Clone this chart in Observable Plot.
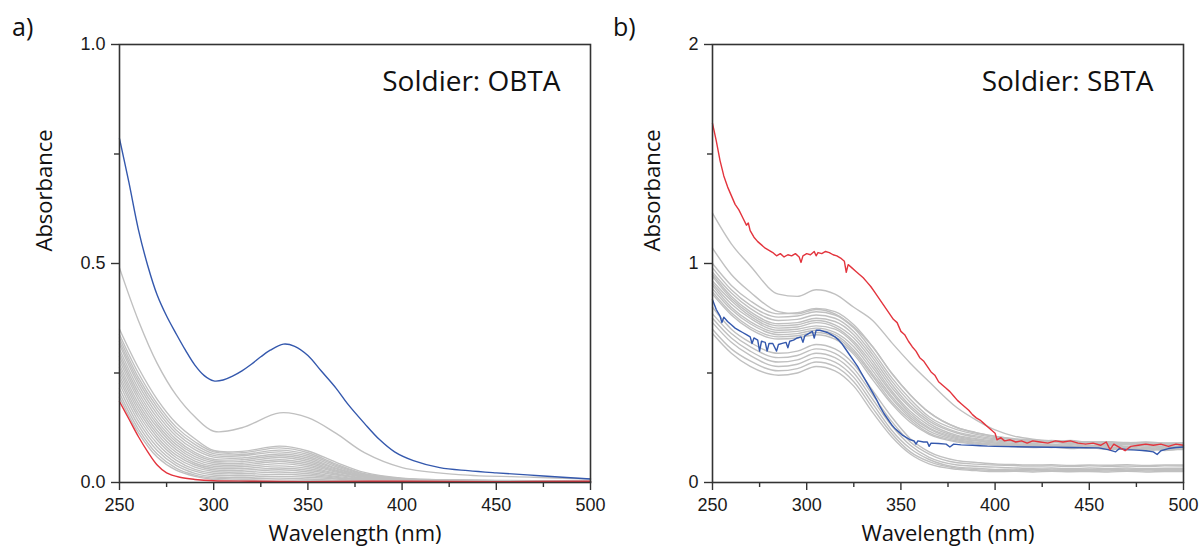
<!DOCTYPE html>
<html><head><meta charset="utf-8">
<script src="https://cdn.jsdelivr.net/npm/d3@7"></script>
<script src="https://cdn.jsdelivr.net/npm/@observablehq/plot@0.6"></script>
<style>
body{margin:0;background:#fff;}
#root{position:relative;width:1204px;height:556px;overflow:hidden;font-family:"Open Sans",sans-serif;background:#fff;}
.panel{position:absolute;top:0;}
.tag{position:absolute;font-size:25px;color:#111;line-height:1;font-family:"Open Sans",sans-serif;}
</style></head><body>
<div id="root">
 <div id="pb" class="panel" style="left:602px"></div>
 <div id="pa" class="panel" style="left:0"></div>
 <div class="tag" style="left:12px;top:14px">a)</div>
 <div class="tag" style="left:613px;top:14px">b)</div>
</div>
<script>
// ---------- shared axis values ----------
const xMajor = [250, 300, 350, 400, 450, 500];
const xMinor = [275, 325, 375, 425, 475];

// ---------- panel a: Soldier OBTA ----------
const titleA = "Soldier: OBTA";
const yTicksA = [0, 0.5, 1.0];
const yMinorA = [0.25, 0.75];
const grayWlA = [250, 260, 270, 280, 290, 300, 315, 335, 350, 365, 380, 400, 430, 470, 500];
const grayA = [
  [0.490, 0.370, 0.272, 0.200, 0.150, 0.117, 0.125, 0.159, 0.148, 0.112, 0.068, 0.034, 0.018, 0.012, 0.008],
  [0.350, 0.262, 0.190, 0.136, 0.100, 0.073, 0.071, 0.083, 0.072, 0.046, 0.023, 0.010, 0.006, 0.004, 0.003],
  [0.338, 0.250, 0.180, 0.127, 0.093, 0.070, 0.068, 0.079, 0.068, 0.042, 0.020, 0.009, 0.005, 0.004, 0.003],
  [0.330, 0.240, 0.172, 0.120, 0.087, 0.066, 0.064, 0.074, 0.064, 0.039, 0.019, 0.008, 0.005, 0.003, 0.002],
  [0.322, 0.232, 0.164, 0.113, 0.081, 0.062, 0.061, 0.070, 0.060, 0.036, 0.017, 0.008, 0.005, 0.003, 0.002],
  [0.315, 0.224, 0.156, 0.106, 0.075, 0.058, 0.056, 0.065, 0.056, 0.033, 0.016, 0.007, 0.004, 0.003, 0.002],
  [0.305, 0.215, 0.148, 0.099, 0.069, 0.053, 0.052, 0.061, 0.052, 0.031, 0.015, 0.007, 0.004, 0.003, 0.002],
  [0.296, 0.206, 0.140, 0.093, 0.064, 0.049, 0.048, 0.057, 0.048, 0.028, 0.014, 0.006, 0.004, 0.003, 0.002],
  [0.288, 0.198, 0.133, 0.087, 0.059, 0.045, 0.044, 0.052, 0.044, 0.026, 0.013, 0.006, 0.004, 0.002, 0.002],
  [0.279, 0.190, 0.126, 0.081, 0.054, 0.041, 0.040, 0.048, 0.040, 0.024, 0.012, 0.005, 0.003, 0.002, 0.002],
  [0.270, 0.181, 0.118, 0.075, 0.049, 0.037, 0.036, 0.043, 0.036, 0.021, 0.010, 0.005, 0.003, 0.002, 0.002],
  [0.262, 0.173, 0.111, 0.069, 0.044, 0.033, 0.032, 0.038, 0.032, 0.019, 0.009, 0.004, 0.003, 0.002, 0.001],
  [0.254, 0.165, 0.104, 0.063, 0.040, 0.029, 0.028, 0.033, 0.028, 0.017, 0.008, 0.004, 0.003, 0.002, 0.001],
  [0.245, 0.157, 0.097, 0.057, 0.035, 0.025, 0.024, 0.029, 0.024, 0.014, 0.007, 0.004, 0.002, 0.002, 0.001],
  [0.236, 0.149, 0.089, 0.051, 0.030, 0.021, 0.020, 0.024, 0.020, 0.012, 0.006, 0.003, 0.002, 0.002, 0.001],
  [0.226, 0.140, 0.081, 0.045, 0.026, 0.017, 0.016, 0.019, 0.016, 0.010, 0.005, 0.003, 0.002, 0.001, 0.001],
  [0.215, 0.131, 0.073, 0.039, 0.021, 0.013, 0.012, 0.014, 0.012, 0.008, 0.004, 0.002, 0.002, 0.001, 0.001],
  [0.204, 0.122, 0.065, 0.033, 0.017, 0.010, 0.008, 0.010, 0.008, 0.005, 0.003, 0.002, 0.001, 0.001, 0.001],
  [0.195, 0.114, 0.058, 0.028, 0.014, 0.007, 0.005, 0.006, 0.005, 0.004, 0.002, 0.002, 0.001, 0.001, 0.001]
];
const blueWlA = [250, 255, 260, 265, 270, 275, 280, 285, 290, 295, 300, 305, 310, 315, 320, 325, 330, 337, 343, 350, 357, 365, 371, 380, 388, 396, 406, 420, 435, 450, 475, 500];
const blueA   = [0.785, 0.685, 0.578, 0.495, 0.428, 0.380, 0.340, 0.302, 0.268, 0.244, 0.232, 0.234, 0.243, 0.255, 0.270, 0.287, 0.302, 0.316, 0.311, 0.290, 0.255, 0.215, 0.180, 0.135, 0.098, 0.070, 0.050, 0.034, 0.027, 0.022, 0.015, 0.008];
const redWlA = [250, 255, 260, 265, 270, 275, 282, 290, 300, 320, 350, 400, 450, 500];
const redA   = [0.185, 0.145, 0.105, 0.070, 0.040, 0.022, 0.012, 0.007, 0.004, 0.003, 0.002, 0.003, 0.002, 0.003];

// ---------- panel b: Soldier SBTA ----------
const titleB = "Soldier: SBTA";
const yTicksB = [0, 1, 2];
const yMinorB = [0.5, 1.5];
const grayWlB = [250, 260, 270, 285, 295, 305, 315, 325, 335, 345, 355, 365, 380, 390, 400, 410, 420, 430, 440, 450, 460, 470, 480, 490, 500];
const grayB = [
  [1.230, 1.090, 0.990, 0.860, 0.850, 0.880, 0.860, 0.800, 0.740, 0.640, 0.545, 0.460, 0.340, 0.285, 0.240, 0.212, 0.198, 0.190, 0.186, 0.183, 0.180, 0.178, 0.176, 0.177, 0.175],
  [1.070, 0.950, 0.870, 0.780, 0.770, 0.790, 0.770, 0.710, 0.620, 0.500, 0.400, 0.320, 0.250, 0.228, 0.210, 0.200, 0.192, 0.190, 0.186, 0.185, 0.185, 0.182, 0.183, 0.180, 0.180],
  [1.000, 0.900, 0.830, 0.770, 0.775, 0.795, 0.780, 0.720, 0.620, 0.500, 0.400, 0.320, 0.250, 0.226, 0.212, 0.198, 0.195, 0.188, 0.192, 0.184, 0.186, 0.178, 0.185, 0.180, 0.182],
  [0.980, 0.880, 0.810, 0.755, 0.760, 0.780, 0.765, 0.705, 0.600, 0.480, 0.380, 0.300, 0.240, 0.220, 0.205, 0.196, 0.188, 0.192, 0.182, 0.186, 0.178, 0.183, 0.172, 0.180, 0.176],
  [0.960, 0.865, 0.795, 0.740, 0.745, 0.765, 0.750, 0.690, 0.585, 0.465, 0.365, 0.290, 0.230, 0.213, 0.200, 0.190, 0.186, 0.180, 0.186, 0.176, 0.181, 0.172, 0.178, 0.170, 0.176],
  [0.950, 0.850, 0.780, 0.725, 0.730, 0.750, 0.735, 0.675, 0.570, 0.450, 0.350, 0.280, 0.225, 0.207, 0.195, 0.188, 0.180, 0.185, 0.176, 0.180, 0.170, 0.176, 0.166, 0.174, 0.170],
  [0.940, 0.840, 0.770, 0.715, 0.720, 0.740, 0.720, 0.660, 0.555, 0.435, 0.340, 0.270, 0.215, 0.200, 0.190, 0.184, 0.178, 0.172, 0.178, 0.168, 0.175, 0.165, 0.172, 0.162, 0.170],
  [0.920, 0.830, 0.760, 0.705, 0.710, 0.730, 0.710, 0.645, 0.540, 0.420, 0.325, 0.260, 0.210, 0.196, 0.185, 0.178, 0.174, 0.168, 0.173, 0.165, 0.170, 0.160, 0.168, 0.158, 0.165],
  [0.910, 0.815, 0.750, 0.695, 0.700, 0.715, 0.700, 0.635, 0.525, 0.410, 0.315, 0.250, 0.205, 0.192, 0.180, 0.174, 0.168, 0.172, 0.163, 0.168, 0.158, 0.165, 0.152, 0.162, 0.160],
  [0.900, 0.800, 0.735, 0.685, 0.690, 0.705, 0.685, 0.620, 0.510, 0.395, 0.305, 0.245, 0.200, 0.190, 0.180, 0.172, 0.170, 0.165, 0.168, 0.160, 0.164, 0.150, 0.160, 0.155, 0.160],
  [0.885, 0.790, 0.725, 0.675, 0.680, 0.695, 0.675, 0.605, 0.495, 0.385, 0.295, 0.235, 0.195, 0.184, 0.175, 0.170, 0.164, 0.168, 0.160, 0.163, 0.155, 0.160, 0.148, 0.156, 0.155],
  [0.870, 0.775, 0.710, 0.665, 0.670, 0.685, 0.665, 0.595, 0.485, 0.370, 0.285, 0.225, 0.190, 0.180, 0.170, 0.166, 0.165, 0.160, 0.164, 0.156, 0.160, 0.150, 0.156, 0.146, 0.155],
  [0.860, 0.765, 0.700, 0.655, 0.660, 0.675, 0.655, 0.585, 0.470, 0.360, 0.275, 0.220, 0.185, 0.176, 0.170, 0.164, 0.160, 0.162, 0.155, 0.160, 0.150, 0.155, 0.145, 0.152, 0.150],
  [0.800, 0.700, 0.640, 0.590, 0.600, 0.630, 0.610, 0.540, 0.420, 0.300, 0.200, 0.140, 0.100, 0.092, 0.085, 0.082, 0.080, 0.081, 0.078, 0.080, 0.079, 0.081, 0.078, 0.080, 0.080],
  [0.770, 0.680, 0.620, 0.570, 0.580, 0.610, 0.590, 0.520, 0.400, 0.280, 0.185, 0.130, 0.090, 0.084, 0.080, 0.077, 0.075, 0.076, 0.073, 0.076, 0.074, 0.075, 0.073, 0.076, 0.075],
  [0.750, 0.660, 0.600, 0.550, 0.560, 0.590, 0.570, 0.500, 0.380, 0.260, 0.170, 0.115, 0.080, 0.074, 0.070, 0.067, 0.065, 0.066, 0.063, 0.066, 0.064, 0.066, 0.063, 0.065, 0.065],
  [0.730, 0.640, 0.580, 0.530, 0.540, 0.570, 0.550, 0.480, 0.360, 0.240, 0.155, 0.105, 0.070, 0.065, 0.060, 0.061, 0.058, 0.061, 0.059, 0.060, 0.058, 0.061, 0.058, 0.060, 0.060],
  [0.700, 0.610, 0.555, 0.510, 0.520, 0.550, 0.530, 0.460, 0.340, 0.225, 0.140, 0.095, 0.065, 0.059, 0.055, 0.056, 0.053, 0.056, 0.054, 0.055, 0.053, 0.056, 0.053, 0.055, 0.055],
  [0.680, 0.590, 0.530, 0.490, 0.500, 0.530, 0.510, 0.440, 0.320, 0.210, 0.130, 0.085, 0.060, 0.054, 0.050, 0.051, 0.048, 0.051, 0.049, 0.050, 0.048, 0.051, 0.048, 0.050, 0.050]
];
const redWlB = [250,252,254,256,258,260,262,264,266,268,269,270,272,274,276,278,280,282,284,286,288,290,292,294,296,297,298,300,302,304,305,306,308,310,312,314,316,318,320,321,322,324,326,328,330,332,334,336,338,340,342,344,346,348,350,352,354,356,358,360,362,364,366,368,370,372,374,376,378,380,382,384,386,388,390,392,394,396,398,400,401,403,405,408,411,414,417,420,424,428,432,436,440,444,448,452,456,459,461,463,466,469,472,476,480,484,488,492,496,500];
const redB   = [1.640,1.560,1.470,1.400,1.350,1.310,1.270,1.245,1.210,1.175,1.185,1.150,1.120,1.100,1.085,1.070,1.060,1.050,1.035,1.045,1.030,1.040,1.035,1.045,1.030,1.005,1.035,1.045,1.040,1.055,1.035,1.050,1.045,1.055,1.050,1.040,1.035,1.025,1.010,0.960,0.995,0.980,0.965,0.950,0.935,0.915,0.895,0.870,0.845,0.820,0.795,0.770,0.745,0.730,0.690,0.675,0.645,0.620,0.600,0.570,0.555,0.530,0.505,0.490,0.460,0.445,0.430,0.415,0.395,0.375,0.360,0.345,0.330,0.310,0.295,0.285,0.270,0.255,0.240,0.225,0.195,0.205,0.190,0.195,0.185,0.190,0.180,0.190,0.185,0.180,0.190,0.185,0.190,0.180,0.175,0.180,0.170,0.185,0.150,0.175,0.160,0.145,0.165,0.170,0.175,0.170,0.175,0.165,0.175,0.170];
const blueWlB = [250,252,254,255,256,258,260,262,264,266,268,270,271,272,274,275,276,278,279,280,282,284,285,287,289,290,291,293,295,297,298,299,301,303,304,305,307,309,311,313,315,317,319,321,323,325,327,329,331,333,335,337,339,341,343,345,347,349,351,353,355,357,358,359,362,364,365,366,370,374,376,378,382,388,392,396,400,420,440,455,460,464,466,470,475,480,484,486,488,492,496,500];
const blueB   = [0.835,0.790,0.760,0.730,0.755,0.735,0.720,0.705,0.695,0.685,0.675,0.665,0.635,0.660,0.650,0.600,0.645,0.640,0.600,0.635,0.635,0.600,0.630,0.635,0.640,0.615,0.645,0.650,0.660,0.665,0.640,0.670,0.680,0.690,0.660,0.695,0.695,0.690,0.685,0.675,0.665,0.650,0.630,0.605,0.580,0.555,0.530,0.500,0.470,0.440,0.410,0.380,0.345,0.315,0.290,0.265,0.245,0.230,0.215,0.205,0.195,0.190,0.175,0.190,0.185,0.185,0.165,0.180,0.178,0.175,0.162,0.175,0.172,0.170,0.168,0.166,0.165,0.162,0.160,0.158,0.150,0.140,0.155,0.150,0.148,0.145,0.140,0.128,0.145,0.155,0.160,0.162];

// ---------- colours ----------
const grayColor = "#c0c0c0";
const blueColor = "#3458ad";
const redColor = "#e3343d";

function rows(wl, vals, id) { return wl.map((w, i) => ({w, v: vals[i], id})); }

function panel(o) {
  const grayRows = o.grays.flatMap((g, k) => rows(o.grayWl, g, k));
  const blueRows = rows(o.blueWl, o.blue, "blue");
  const redRows = rows(o.redWl, o.red, "red");
  const first = o.redFirst ? [redRows, redColor] : [blueRows, blueColor];
  const second = o.redFirst ? [blueRows, blueColor] : [redRows, redColor];
  return Plot.plot({
    width: 602, height: 556,
    marginLeft: o.marginLeft, marginRight: o.marginRight, marginTop: 44, marginBottom: 74,
    x: {domain: [250, 500]},
    y: {domain: o.yDomain},
    style: {fontFamily: '"Liberation Sans", Arial, sans-serif', fontSize: "18px", color: "#1a1a1a", background: "transparent", overflow: "visible"},
    marks: [
      Plot.line(grayRows, {x: "w", y: "v", z: "id", stroke: grayColor, strokeWidth: 1.4, curve: o.grayCurve}),
      Plot.line(first[0], {x: "w", y: "v", stroke: first[1], strokeWidth: 1.4, curve: o.curve}),
      Plot.line(second[0], {x: "w", y: "v", stroke: second[1], strokeWidth: 1.4, curve: o.curve}),
      Plot.frame({stroke: "#333", strokeWidth: 1.6}),
      Plot.axisX({ticks: xMajor, tickSize: 8, tickPadding: 8, label: null, stroke: "#333", strokeWidth: 1.4}),
      Plot.axisX({ticks: xMinor, tickSize: 5, fill: null, label: null, stroke: "#333", strokeWidth: 1.4}),
      Plot.axisY({ticks: o.yTicks, tickSize: 8, tickPadding: 6, tickFormat: o.yFormat, label: null, stroke: "#333", strokeWidth: 1.4}),
      Plot.axisY({ticks: o.yMinor, tickSize: 5, fill: null, label: null, stroke: "#333", strokeWidth: 1.4}),
      Plot.text([o.title], {text: d => d, frameAnchor: "top-right", dx: -30, dy: 27, lineAnchor: "top", textAnchor: "end", fontSize: 28, fontFamily: "Open Sans", fill: "#111"}),
      Plot.text(["Absorbance"], {text: d => d, frameAnchor: "left", dx: o.yTitleDx, dy: -12, rotate: -90, fontSize: 22, fontFamily: "Open Sans", fill: "#111"}),
      Plot.text(["Wavelength (nm)"], {text: d => d, frameAnchor: "bottom", dy: 58, fontSize: 22, fontFamily: "Open Sans", fill: "#111"})
    ]
  });
}

const pa = panel({
  grays: grayA, grayWl: grayWlA, blue: blueA, blueWl: blueWlA, red: redA, redWl: redWlA,
  yDomain: [0, 1], yTicks: yTicksA, yMinor: yMinorA, yFormat: d3.format(".1f"),
  marginLeft: 119, marginRight: 12, title: titleA, yTitleDx: -75, curve: "catmull-rom", grayCurve: "catmull-rom", redFirst: true
});
const pb = panel({
  grays: grayB, grayWl: grayWlB, blue: blueB, blueWl: blueWlB, red: redB, redWl: redWlB,
  yDomain: [0, 2], yTicks: yTicksB, yMinor: yMinorB, yFormat: d3.format("d"),
  marginLeft: 110, marginRight: 21, title: titleB, yTitleDx: -60, curve: "linear", grayCurve: "monotone-x", redFirst: false
});
document.getElementById("pa").appendChild(pa);
document.getElementById("pb").appendChild(pb);
</script>
</body></html>
